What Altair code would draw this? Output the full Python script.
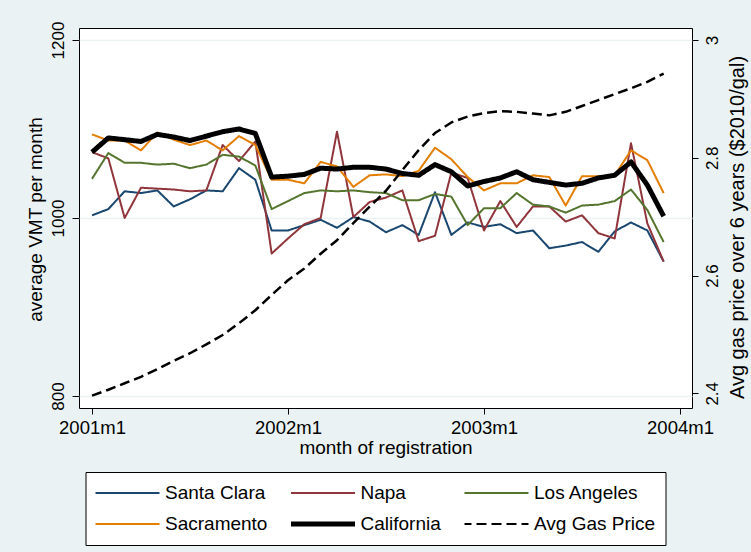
import altair as alt
import pandas as pd

# Registration months, January 2001 through December 2003
months = [f"{y}m{m}" for y in (2001, 2002, 2003) for m in range(1, 13)]
x_tick_labels = ["2001m1", "2002m1", "2003m1", "2004m1"]
x_tick_positions = [0, 12, 24, 36]

# Average vehicle miles travelled per month, by county of registration
santa_clara = [1003, 1010, 1030, 1028, 1031, 1013, 1021, 1031, 1030, 1056, 1043, 986,
               986, 992, 998, 989, 1001, 996, 984, 992, 981, 1029, 981, 995,
               990, 993, 983, 986, 966, 969, 973, 962, 985, 995, 986, 951]
napa = [1074, 1067, 1000, 1034, 1033, 1032, 1030, 1031, 1082, 1064, 1086, 960,
        977, 993, 1000, 1097, 1001, 1018, 1023, 1031, 974, 980, 1051, 1045,
        986, 1019, 990, 1013, 1013, 996, 1003, 983, 977, 1084, 994, 951]
los_angeles = [1044, 1073, 1062, 1062, 1060, 1061, 1056, 1060, 1071, 1069, 1059, 1010,
               1019, 1028, 1031, 1030, 1031, 1029, 1028, 1020, 1020, 1027, 1024, 992,
               1011, 1011, 1028, 1015, 1013, 1006, 1014, 1015, 1019, 1032, 1009, 973]
sacramento = [1094, 1087, 1087, 1076, 1096, 1088, 1082, 1087, 1076, 1092, 1082, 1043,
              1043, 1039, 1063, 1058, 1035, 1048, 1049, 1047, 1053, 1079, 1066, 1046,
              1031, 1039, 1039, 1048, 1046, 1014, 1047, 1047, 1048, 1076, 1065, 1028]
california = [1074, 1090, 1088, 1086, 1094, 1091, 1087, 1092, 1097, 1100, 1095, 1046,
              1047, 1049, 1056, 1055, 1057, 1057, 1055, 1050, 1048, 1060, 1052, 1036,
              1041, 1045, 1052, 1043, 1040, 1037, 1039, 1045, 1048, 1063, 1037, 1002]

# Average gas price over the following 6 years, 2010 dollars per gallon
gas_price = [2.396, 2.406, 2.417, 2.428, 2.441, 2.455, 2.468, 2.483, 2.499, 2.519, 2.541, 2.567,
             2.592, 2.612, 2.637, 2.660, 2.689, 2.717, 2.744, 2.779, 2.813, 2.842, 2.860, 2.870,
             2.876, 2.879, 2.878, 2.875, 2.872, 2.878, 2.888, 2.898, 2.908, 2.918, 2.929, 2.943]

vmt_ticks = [800, 1000, 1200]
gas_ticks = [2.4, 2.6, 2.8, 3.0]

# Legend entries fill column by column in a 2-row grid
series_names = ["Santa Clara", "Sacramento", "Napa", "California", "Los Angeles", "Avg Gas Price"]
series_colors = ["#1a476f", "#e37e00", "#90353b", "#000000", "#55752f", "#000000"]
series_dashes = [[1, 0], [1, 0], [1, 0], [1, 0], [1, 0], [10, 5]]

# Drawing order: counties first, statewide average on top
vmt_series = {
    "Santa Clara": santa_clara,
    "Napa": napa,
    "Los Angeles": los_angeles,
    "Sacramento": sacramento,
    "California": california,
}

vmt_df = pd.DataFrame(
    [
        {"month": m, "t": i, "series": name, "vmt": v}
        for name, values in vmt_series.items()
        for i, (m, v) in enumerate(zip(months, values))
    ]
)
gas_df = pd.DataFrame(
    {"month": months, "t": list(range(len(months))), "series": "Avg Gas Price", "gas": gas_price}
)

FONT = "Liberation Sans"
BG = "#eaf2f3"

label_lookup = "[" + ",".join(f"'{s}'" for s in x_tick_labels) + "]"
x_enc = alt.X(
    "t:Q",
    scale=alt.Scale(domain=[-0.796, 36.735], nice=False, zero=False),
    axis=alt.Axis(
        values=x_tick_positions,
        labelExpr=f"{label_lookup}[round(datum.value / 12)]",
        title="month of registration",
        domain=False,
        grid=False,
        tickSize=6,
        tickColor="black",
        labelPadding=4,
        labelFontSize=18.5,
        labelColor="black",
        titleFontSize=19,
        titleFontWeight="normal",
        titleColor="black",
        titleY=39,
        titleBaseline="middle",
    ),
)

legend = alt.Legend(
    title=None,
    orient="none",
    legendX=6.5,
    legendY=444,
    columns=3,
    symbolType="stroke",
    symbolSize=4489,
    symbolOffset=-4,
    symbolStrokeWidth=alt.ExprRef(expr="(datum.value == 'California' ? 5 : 2)"),
    clipHeight=22,
    labelFont=FONT,
    labelFontSize=19,
    labelColor="black",
    labelOffset=4.5,
    columnPadding=23.5,
    rowPadding=9,
    padding=10,
    strokeColor="black",
    fillColor="white",
)

color_enc = alt.Color(
    "series:N", scale=alt.Scale(domain=series_names, range=series_colors), legend=legend
)
dash_enc = alt.StrokeDash(
    "series:N", scale=alt.Scale(domain=series_names, range=series_dashes), legend=legend
)

vmt_lines = (
    alt.Chart(vmt_df)
    .mark_line(strokeJoin="round")
    .encode(
        x=x_enc,
        y=alt.Y(
            "vmt:Q",
            scale=alt.Scale(domain=[786.5, 1213.5], nice=False, zero=False),
            axis=alt.Axis(
                orient="left",
                values=vmt_ticks,
                format="d",
                title="average VMT per month",
                domain=False,
                grid=True,
                gridColor=BG,
                gridWidth=1.5,
                tickSize=7,
                tickColor="black",
                labelAngle=270,
                labelAlign="center",
                labelBaseline="bottom",
                labelPadding=5,
                labelFontSize=17,
                labelColor="black",
                titleAngle=270,
                titleX=-44,
                titleY=191,
                titleAlign="center",
                titleBaseline="middle",
                titleFontSize=19,
                titleFontWeight="normal",
                titleColor="black",
            ),
        ),
        color=color_enc,
        strokeDash=dash_enc,
        strokeWidth=alt.condition(alt.datum.series == "California", alt.value(5), alt.value(2)),
        detail="series:N",
    )
)

gas_line = (
    alt.Chart(gas_df)
    .mark_line(strokeJoin="round", strokeWidth=2.5)
    .encode(
        x=x_enc,
        y=alt.Y(
            "gas:Q",
            scale=alt.Scale(domain=[2.375, 3.0204], nice=False, zero=False),
            axis=alt.Axis(
                orient="right",
                values=gas_ticks,
                format="~g",
                title="Avg gas price over 6 years ($2010/gal)",
                domain=False,
                grid=False,
                tickSize=6,
                tickColor="black",
                labelAngle=270,
                labelAlign="center",
                labelBaseline="top",
                labelPadding=6,
                labelFontSize=17,
                labelColor="black",
                titleAngle=270,
                titleX=45.5,
                titleY=199,
                titleAlign="center",
                titleBaseline="middle",
                titleFontSize=20,
                titleFontWeight="normal",
                titleColor="black",
            ),
        ),
        color=color_enc,
        strokeDash=dash_enc,
    )
)

chart = (
    alt.layer(vmt_lines, gas_line)
    .resolve_scale(y="independent")
    .properties(
        width=613,
        height=380,
        autosize=alt.AutoSizeParams(type="none"),
        padding={"left": 79, "top": 28, "right": 59, "bottom": 144},
        background=BG,
    )
    .configure(font=FONT)
    .configure_view(fill="white", stroke="black", strokeWidth=1)
)

chart.save("out.html", embed_options={"renderer": "svg", "actions": False})
